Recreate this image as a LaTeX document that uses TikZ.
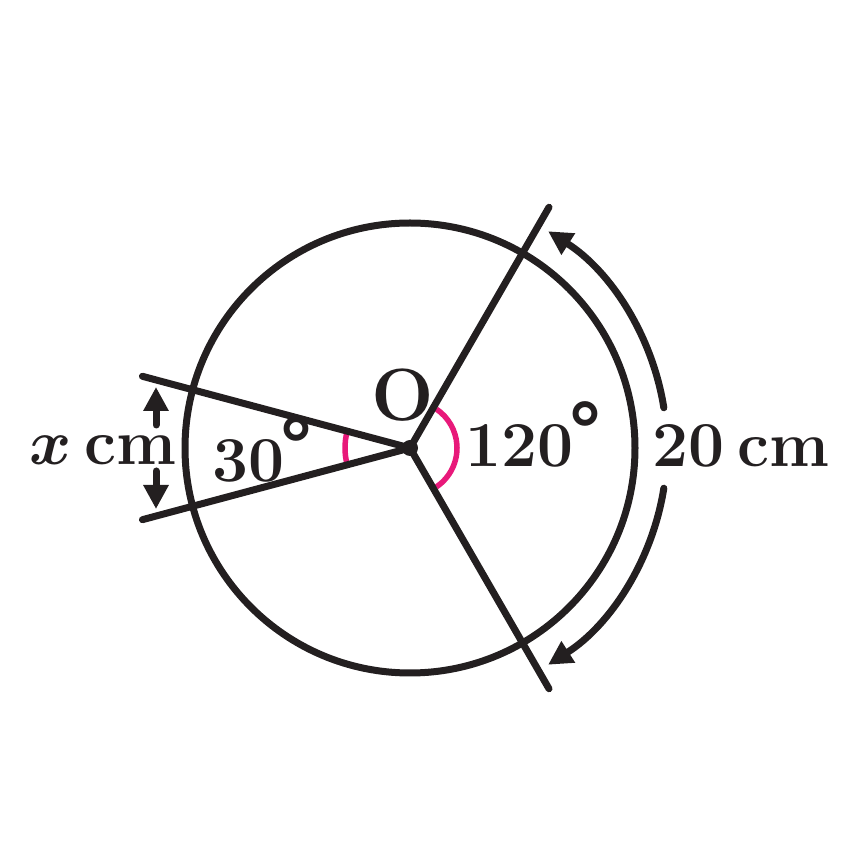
\RequirePackage{fix-cm}
\documentclass[tikz,border=0pt]{standalone}
\usepackage{fontspec}
\usepackage{bm}
\newfontfamily\degfont{DejaVu Sans}
\usetikzlibrary{arrows.meta}
\definecolor{ink}{HTML}{231F20}
\definecolor{pinkarc}{HTML}{E8197A}
\newcommand{\lblfont}{\fontsize{64}{70}\selectfont\bfseries}
\newcommand{\bigOfont}{\fontsize{74}{80}\selectfont\bfseries}
\newcommand{\degsym}{\kern-7pt\raisebox{8pt}{\degfont\bfseries\fontsize{76}{76}\selectfont °}}
\begin{document}
\begin{tikzpicture}[x=1pt,y=1pt, line width=7pt, line cap=round,
  lbl/.style={inner sep=0pt, anchor=base west, text=ink, font=\lblfont},
  tipped/.style={-{Triangle[length=24pt,width=24pt]}},
  anglearc/.style={draw=pinkarc, line width=5.5pt, line cap=butt}]
\useasboundingbox (0,0) rectangle (848,868);
\coordinate (O) at (410,420);
\coordinate (A) at ([shift={(60:278pt)}]O);
\coordinate (B) at ([shift={(-60:278pt)}]O);
\coordinate (C) at ([shift={(165:277pt)}]O);
\coordinate (D) at ([shift={(195:277pt)}]O);
% circle
\draw[ink] (O) circle (225pt);
% angle marks
\draw[anglearc] ([shift={(165:65pt)}]O) arc[start angle=165, end angle=195, radius=65pt];
\draw[anglearc] ([shift={(-56:47pt)}]O) arc[start angle=-56, end angle=56, radius=47pt];
% radii
\draw[ink] (O) -- (A);
\draw[ink] (O) -- (B);
\draw[ink] (O) -- (C);
\draw[ink] (O) -- (D);
\fill[ink] (O) circle (8pt);
% arc arrows
\coordinate (P1) at ([shift={(9:257pt)}]O);
\coordinate (P2) at ([shift={(-9:257pt)}]O);
\draw[ink, tipped] (P1) arc[start angle=9, end angle=57.5, radius=257pt];
\draw[ink, tipped] (P2) arc[start angle=-9, end angle=-57.5, radius=257pt];
% x cm arrows
\coordinate (X1) at (156,443);
\coordinate (X2) at (156,481);
\coordinate (X3) at (156,397);
\coordinate (X4) at (156,359);
\draw[ink, tipped] (X1) -- (X2);
\draw[ink, tipped] (X3) -- (X4);
% labels
\node[lbl] (lx) at (26,403) {$\bm{x}$\hspace{0.2em}cm};
\node[lbl] (l30) at (209,386) {30\degsym};
\node[lbl, font=\bigOfont] (lO) at (368,447) {O};
\node[lbl] (l120) at (462,401) {120\degsym};
\node[lbl] (l20) at (649,401) {20\hspace{0.2em}cm};
\end{tikzpicture}
\end{document}
